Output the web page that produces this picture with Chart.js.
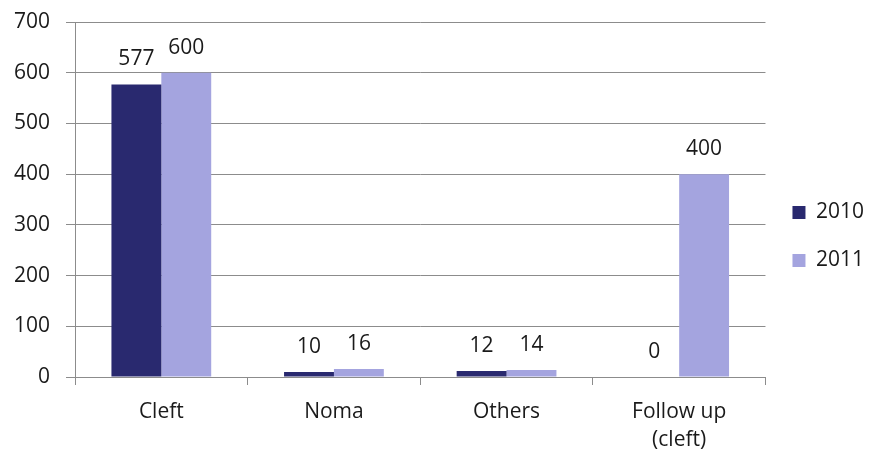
<!DOCTYPE html>
<html>
<head>
<meta charset="utf-8">
<script src="https://cdn.jsdelivr.net/npm/chart.js@4/dist/chart.umd.min.js"></script>
<style>
html,body{margin:0;padding:0;background:#fff;}
#wrap{width:884px;height:457px;position:relative;}
</style>
</head>
<body>
<div id="wrap"><canvas id="c" width="884" height="457"></canvas></div>
<script>
const categories = [['Cleft'], ['Noma'], ['Others'], ['Follow up', '(cleft)']];
const seriesNames = ['2010', '2011'];
const values2010 = [577, 10, 12, 0];
const values2011 = [600, 16, 14, 400];
const yTicks = [0, 100, 200, 300, 400, 500, 600, 700];

const FONT = 'Open Sans';
const FS = 21;
const TEXT = '#1a1a1a';

const dataLabels = {
  id: 'dataLabels',
  afterDatasetsDraw(chart) {
    const ctx = chart.ctx;
    ctx.save();
    ctx.font = FS + 'px "' + FONT + '"';
    ctx.fillStyle = TEXT;
    ctx.textAlign = 'center';
    ctx.textBaseline = 'alphabetic';
    chart.data.datasets.forEach((ds, i) => {
      const meta = chart.getDatasetMeta(i);
      meta.data.forEach((bar, j) => {
        ctx.fillText(String(ds.data[j]), bar.x, bar.y - 19);
      });
    });
    ctx.restore();
  }
};

new Chart(document.getElementById('c'), {
  type: 'bar',
  data: {
    labels: categories,
    datasets: [
      { label: seriesNames[0], data: values2010, backgroundColor: '#29296F' },
      { label: seriesNames[1], data: values2011, backgroundColor: '#A4A4DF' }
    ]
  },
  options: {
    responsive: false,
    animation: false,
    devicePixelRatio: 1,
    categoryPercentage: 0.578,
    barPercentage: 1.0,
    layout: { padding: { left: -2, top: 16, right: 10, bottom: 0 } },
    plugins: {
      tooltip: { enabled: false },
      legend: {
        position: 'right',
        align: 'center',
        labels: {
          font: { family: FONT, size: FS },
          color: TEXT,
          boxWidth: 13,
          boxHeight: 13,
          padding: 27
        }
      }
    },
    scales: {
      x: {
        afterFit(scale) { scale.height = 80; },
        grid: { display: true, drawOnChartArea: false, drawTicks: true, tickLength: 8, color: '#8c8c8c', offset: true },
        border: { display: true, color: '#8c8c8c', width: 1 },
        ticks: { font: { family: FONT, size: FS, lineHeight: 1.33 }, color: TEXT, padding: 13, maxRotation: 0 }
      },
      y: {
        min: 0, max: 700,
        afterBuildTicks(axis) { axis.ticks = yTicks.map(v => ({ value: v })); },
        afterFit(scale) { scale.paddingTop = 22; scale.paddingBottom = 0; },
        grid: { color: '#8c8c8c', tickLength: 9, drawTicks: true },
        border: { display: true, color: '#8c8c8c', width: 1 },
        ticks: { font: { family: FONT, size: FS }, color: TEXT, padding: 16 }
      }
    }
  },
  plugins: [dataLabels]
});
</script>
</body>
</html>
